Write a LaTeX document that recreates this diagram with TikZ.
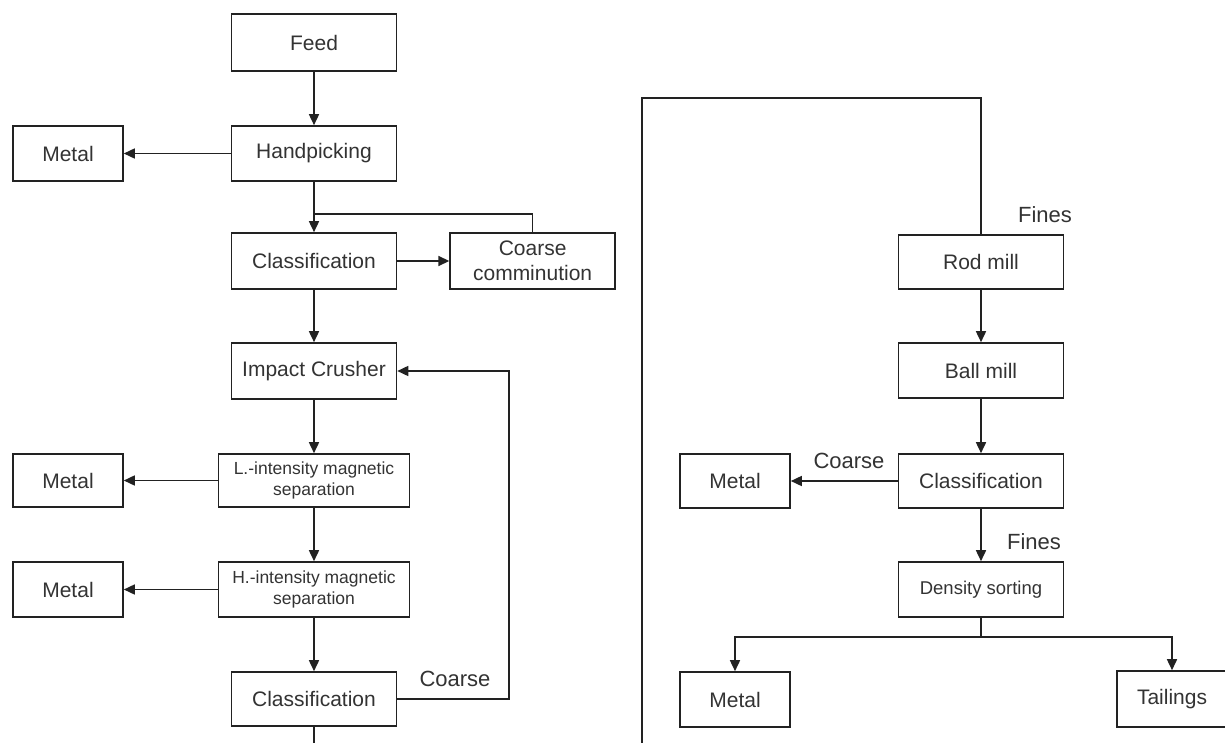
\documentclass[tikz,border=0pt]{standalone}
\usepackage{fontspec}
\setmainfont{Liberation Sans}
\usetikzlibrary{arrows.meta}
\definecolor{flowInk}{HTML}{222222}
\definecolor{flowText}{HTML}{333333}

\begin{document}
\begin{tikzpicture}[
    x=1pt, y=-1pt,
    flow box/.style={draw=flowInk, line width=1.6pt, fill=white, text=flowText, align=center,
      minimum width=165pt, inner sep=2pt, font=\fontsize{21}{25}\selectfont},
    flow small/.style={flow box, font=\fontsize{17.5}{21}\selectfont},
    flow out/.style={flow box, minimum width=110pt},
    flow line/.style={draw=flowInk, line width=1.6pt},
    flow arrow/.style={flow line, -{Triangle[length=11pt, width=10pt]}},
    flow label/.style={text=flowText, font=\fontsize{22}{24}\selectfont, inner sep=0pt},
]
  \useasboundingbox[fill=white] (0,0) rectangle (1225,743);

  % Caixas, lado esquerdo.
  \node[flow box, minimum height=57pt] (feed) at (314,42.5) {Feed};
  \node[flow box, minimum height=55pt] (hand) at (314,153.5) {Handpicking};
  \node[flow out, minimum height=55pt] (metalA) at (68,153.5) {Metal};
  \node[flow box, minimum height=56pt] (classA) at (314,261) {Classification};
  \node[flow box, minimum height=56pt] (comm) at (532.6,261) {Coarse\\comminution};
  \node[flow box, minimum height=56pt] (crusher) at (314,371) {Impact Crusher};
  \node[flow small, minimum width=191pt, minimum height=53pt] (lmag) at (314,480.5) {L.-intensity magnetic\\separation};
  \node[flow out, minimum height=53pt] (metalB) at (68,480.5) {Metal};
  \node[flow small, minimum width=191pt, minimum height=55pt] (hmag) at (314,589.5) {H.-intensity magnetic\\separation};
  \node[flow out, minimum height=55pt] (metalC) at (68,589.5) {Metal};
  \node[flow box, minimum height=54pt] (classB) at (314,699) {Classification};

  % Caixas, lado direito.
  \node[flow box, minimum height=54pt] (rod) at (981,262) {Rod mill};
  \node[flow box, minimum height=55pt] (ball) at (981,370.5) {Ball mill};
  \node[flow box, minimum height=54pt] (classC) at (981,481) {Classification};
  \node[flow out, minimum height=54pt] (metalD) at (735,481) {Metal};
  \node[flow small, font=\fontsize{18.5}{21}\selectfont, minimum height=55pt] (density) at (981,589.5) {Density sorting};
  \node[flow out, minimum height=55pt] (metalE) at (735,699.5) {Metal};
  \node[flow out, minimum height=56pt] (tail) at (1172,699) {Tailings};

  % Pontos de passagem.
  \coordinate (join) at (314,214);
  \coordinate (back) at (509,699);
  \coordinate (outL) at (314,743);
  \coordinate (outR) at (642,743);
  \coordinate (corner) at (642,98);
  \coordinate (split) at (981,637);

  % Ligações.
  \draw[flow arrow] (feed) -- (hand);
  \draw[flow arrow] (hand) -- (metalA);
  \draw[flow arrow] (hand) -- (classA);
  \draw[flow line] (comm.north) |- (join);
  \draw[flow arrow] (classA) -- (comm);
  \draw[flow arrow] (classA) -- (crusher);
  \draw[flow arrow] (crusher) -- (lmag);
  \draw[flow arrow] (lmag) -- (metalB);
  \draw[flow arrow] (lmag) -- (hmag);
  \draw[flow arrow] (hmag) -- (metalC);
  \draw[flow arrow] (hmag) -- (classB);
  \draw[flow arrow] (classB.east) -- (back) |- (crusher.east);
  \draw[flow line] (classB) -- (outL);
  \draw[flow line] (outR) -- (corner) -| (rod.north);
  \draw[flow arrow] (rod) -- (ball);
  \draw[flow arrow] (ball) -- (classC);
  \draw[flow arrow] (classC) -- (metalD);
  \draw[flow arrow] (classC) -- (density);
  \draw[flow line] (density) -- (split);
  \draw[flow arrow] (split) -| (metalE.north);
  \draw[flow arrow] (split) -| (tail.north);

  % Rótulos.
  \node[flow label] (lblCoarseA) at (455,679) {Coarse};
  \node[flow label] (lblFinesA) at (1045,215) {Fines};
  \node[flow label] (lblCoarseB) at (849,461) {Coarse};
  \node[flow label] (lblFinesB) at (1034,542) {Fines};
\end{tikzpicture}
\end{document}
